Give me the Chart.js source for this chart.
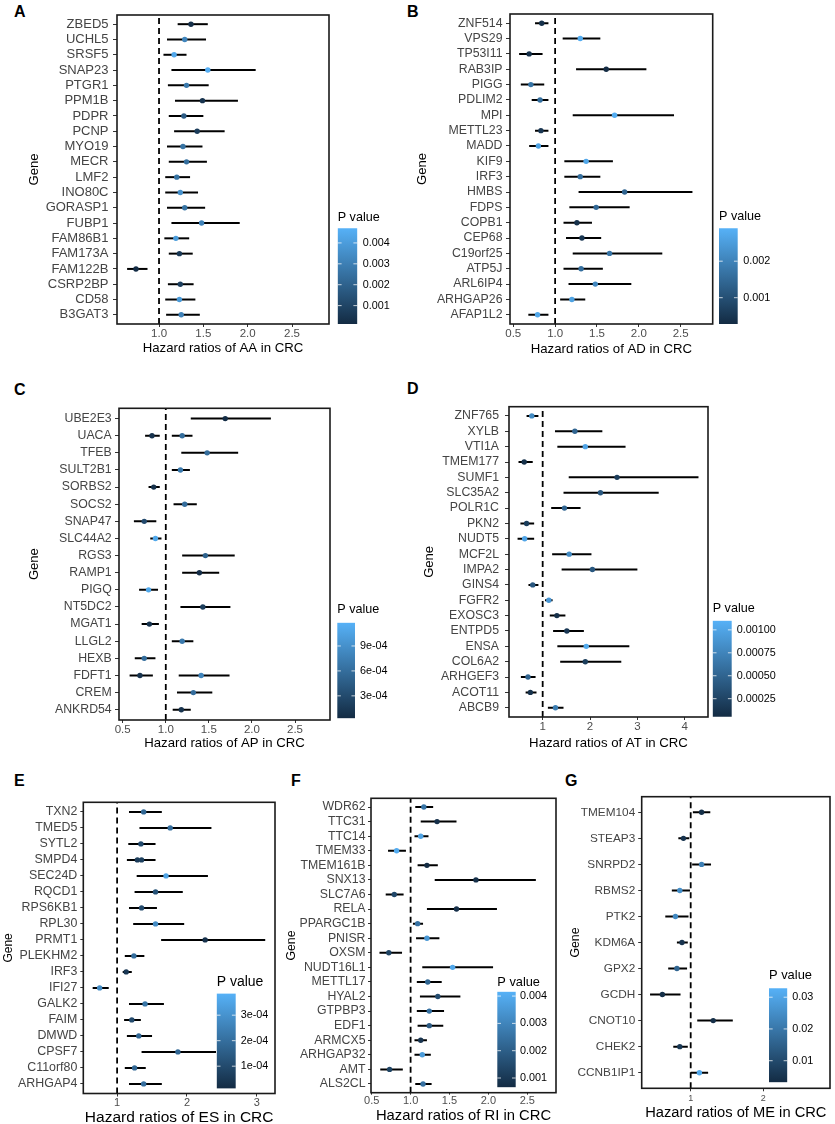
<!DOCTYPE html>
<html><head><meta charset="utf-8">
<script src="https://cdn.jsdelivr.net/npm/chart.js@4.4.0/dist/chart.umd.min.js"></script>
<style>
html,body{margin:0;padding:0;background:#fff;overflow:hidden;width:835px;height:1124px;}
.lbl{position:absolute;font:bold 16px "Liberation Sans",Arial,sans-serif;line-height:16px;color:#000;}
.pan{position:absolute;}
</style></head><body>
<div class="lbl" style="left:14px;top:4px">A</div>
<div class="lbl" style="left:407px;top:4px">B</div>
<div class="lbl" style="left:14px;top:382px">C</div>
<div class="lbl" style="left:407px;top:381px">D</div>
<div class="lbl" style="left:14px;top:773px">E</div>
<div class="lbl" style="left:291px;top:773px">F</div>
<div class="lbl" style="left:565px;top:773px">G</div>
<script>
// ---------- DATA ----------
const genesA = ['ZBED5','UCHL5','SRSF5','SNAP23','PTGR1','PPM1B','PDPR','PCNP','MYO19','MECR','LMF2','INO80C','GORASP1','FUBP1','FAM86B1','FAM173A','FAM122B','CSRP2BP','CD58','B3GAT3'];
const hrA   = [1.36,1.29,1.17,1.55,1.31,1.49,1.28,1.43,1.27,1.31,1.20,1.24,1.29,1.48,1.19,1.23,0.74,1.24,1.23,1.25];
const lowA  = [1.21,1.09,1.05,1.14,1.10,1.18,1.11,1.17,1.09,1.11,1.07,1.07,1.09,1.14,1.06,1.11,0.64,1.10,1.07,1.08];
const highA = [1.55,1.53,1.31,2.09,1.56,1.89,1.50,1.74,1.49,1.54,1.35,1.44,1.52,1.91,1.34,1.38,0.87,1.39,1.41,1.46];
const pA    = [0.0003,0.0032,0.0044,0.0046,0.0028,0.0004,0.0018,0.0007,0.0026,0.0024,0.0026,0.0036,0.0026,0.0031,0.0040,0.0006,0.0002,0.0008,0.0039,0.0031];

const genesB = ['ZNF514','VPS29','TP53I11','RAB3IP','PIGG','PDLIM2','MPI','METTL23','MADD','KIF9','IRF3','HMBS','FDPS','COPB1','CEP68','C19orf25','ATP5J','ARL6IP4','ARHGAP26','AFAP1L2'];
const hrB   = [0.84,1.30,0.69,1.61,0.71,0.82,1.71,0.83,0.80,1.37,1.30,1.83,1.49,1.26,1.32,1.65,1.31,1.48,1.20,0.79];
const lowB  = [0.76,1.09,0.57,1.25,0.59,0.72,1.21,0.76,0.69,1.11,1.11,1.28,1.17,1.10,1.13,1.21,1.10,1.16,1.06,0.68];
const highB = [0.92,1.54,0.85,2.09,0.87,0.92,2.42,0.92,0.92,1.69,1.54,2.64,1.89,1.44,1.55,2.28,1.57,1.91,1.36,0.92];
const pB    = [0.0004,0.0028,0.0004,0.0003,0.0017,0.0016,0.0028,0.0005,0.0026,0.0027,0.0016,0.0014,0.0015,0.0004,0.0005,0.0017,0.0016,0.0021,0.0026,0.0027];

const genesC = ['UBE2E3','UACA','UACA','TFEB','SULT2B1','SORBS2','SOCS2','SNAP47','SLC44A2','RGS3','RAMP1','PIGQ','NT5DC2','MGAT1','LLGL2','HEXB','FDFT1','FDFT1','CREM','ANKRD54'];
const hrC   = [1.69,0.84,1.19,1.48,1.17,0.86,1.22,0.75,0.88,1.46,1.39,0.80,1.43,0.81,1.19,0.75,0.70,1.41,1.32,1.18];
const lowC  = [1.29,0.76,1.07,1.18,1.07,0.80,1.09,0.63,0.82,1.19,1.19,0.69,1.17,0.72,1.07,0.64,0.58,1.15,1.13,1.08];
const highC = [2.22,0.93,1.31,1.84,1.28,0.93,1.36,0.89,0.95,1.80,1.62,0.91,1.75,0.92,1.32,0.88,0.85,1.74,1.54,1.29];
const pC    = [0.00005,0.0001,0.0006,0.0006,0.0007,0.00008,0.0006,0.0003,0.0011,0.0005,0.00006,0.0011,0.0002,0.0001,0.0007,0.0006,0.0001,0.0008,0.0006,0.0001];

const genesD = ['ZNF765','XYLB','VTI1A','TMEM177','SUMF1','SLC35A2','POLR1C','PKN2','NUDT5','MCF2L','IMPA2','GINS4','FGFR2','EXOSC3','ENTPD5','ENSA','COL6A2','ARHGEF3','ACOT11','ABCB9'];
const hrD   = [0.77,1.68,1.90,0.61,2.57,2.22,1.46,0.66,0.62,1.56,2.05,0.79,1.13,1.30,1.51,1.92,1.90,0.69,0.74,1.27];
const lowD  = [0.66,1.26,1.31,0.49,1.55,1.44,1.18,0.53,0.47,1.20,1.40,0.70,1.05,1.15,1.22,1.31,1.37,0.54,0.64,1.11];
const highD = [0.91,2.26,2.75,0.79,4.29,3.45,1.80,0.82,0.82,2.03,3.00,0.91,1.21,1.48,1.87,2.83,2.66,0.85,0.87,1.44];
const pD    = [0.0008,0.0005,0.0010,0.0001,0.0002,0.0004,0.0005,0.0002,0.0010,0.0008,0.0004,0.0004,0.0009,0.0001,0.00015,0.00105,0.0002,0.0005,0.0001,0.0007];

const genesE = ['TXN2','TMED5','SYTL2','SMPD4','SMPD4','SEC24D','RQCD1','RPS6KB1','RPL30','PRMT1','PLEKHM2','IRF3','IFI27','GALK2','FAIM','DMWD','CPSF7','C11orf80','ARHGAP4'];
const hrE   = [1.38,1.76,1.34,1.29,1.35,1.70,1.55,1.35,1.55,2.26,1.24,1.13,0.75,1.40,1.21,1.31,1.87,1.25,1.38];
const lowE  = [1.17,1.32,1.16,1.14,1.15,1.28,1.25,1.17,1.23,1.63,1.11,1.08,0.65,1.17,1.10,1.14,1.35,1.11,1.17];
const highE = [1.64,2.35,1.55,1.52,1.55,2.30,1.94,1.57,1.96,3.12,1.39,1.21,0.88,1.67,1.34,1.50,3.15,1.41,1.64];
const pE    = [0.00018,0.0002,0.0001,0.00006,0.00007,0.00035,0.00012,0.0001,0.00028,0.00003,0.0002,0.00005,0.00028,0.00022,0.0001,0.00018,0.00018,0.00018,0.0002];

const genesF = ['WDR62','TTC31','TTC14','TMEM33','TMEM161B','SNX13','SLC7A6','RELA','PPARGC1B','PNISR','OXSM','NUDT16L1','METTL17','HYAL2','GTPBP3','EDF1','ARMCX5','ARHGAP32','AMT','ALS2CL'];
const hrF   = [1.17,1.34,1.13,0.82,1.21,1.84,0.79,1.59,1.09,1.21,0.72,1.54,1.22,1.35,1.24,1.24,1.13,1.15,0.73,1.16];
const lowF  = [1.06,1.13,1.05,0.71,1.09,1.31,0.68,1.21,1.03,1.07,0.60,1.15,1.08,1.12,1.08,1.09,1.05,1.05,0.61,1.06];
const highF = [1.29,1.59,1.23,0.94,1.35,2.61,0.91,2.11,1.16,1.37,0.89,2.06,1.40,1.64,1.43,1.42,1.21,1.26,0.90,1.27];
const pF    = [0.0026,0.0008,0.0038,0.0040,0.0007,0.0008,0.0014,0.0008,0.0025,0.0035,0.0013,0.0039,0.0022,0.0015,0.0025,0.0019,0.0009,0.0036,0.0013,0.0025];

const genesG = ['TMEM104','STEAP3','SNRPD2','RBMS2','PTK2','KDM6A','GPX2','GCDH','CNOT10','CHEK2','CCNB1IP1'];
const hrG   = [1.15,0.90,1.15,0.85,0.79,0.88,0.81,0.61,1.31,0.85,1.12];
const lowG  = [1.03,0.83,1.02,0.74,0.65,0.81,0.69,0.44,1.09,0.76,1.00];
const highG = [1.27,0.98,1.28,0.99,0.97,0.96,0.95,0.86,1.58,0.96,1.24];
const pG    = [0.004,0.005,0.022,0.025,0.024,0.005,0.016,0.004,0.004,0.006,0.031];

// x-axis tick values and legend ticks/labels
const xTicksAB = [0.5,1.0,1.5,2.0,2.5];
const xTicksA = [1.0,1.5,2.0,2.5];
const xTicksD = [1,2,3,4];
const xTicksE = [1,2,3];
const xTicksG = [1,2];
const legTicksA = [0.001,0.002,0.003,0.004], legLabelsA = ['0.001','0.002','0.003','0.004'];
const legTicksB = [0.001,0.002], legLabelsB = ['0.001','0.002'];
const legTicksC = [0.0003,0.0006,0.0009], legLabelsC = ['3e-04','6e-04','9e-04'];
const legTicksD = [0.00025,0.0005,0.00075,0.001], legLabelsD = ['0.00025','0.00050','0.00075','0.00100'];
const legTicksE = [0.0001,0.0002,0.0003], legLabelsE = ['1e-04','2e-04','3e-04'];
const legTicksF = [0.001,0.002,0.003,0.004], legLabelsF = ['0.001','0.002','0.003','0.004'];
const legTicksG = [0.01,0.02,0.03], legLabelsG = ['0.01','0.02','0.03'];
const pRangeA=[0.00012,0.0047], pRangeB=[0.00028,0.0029], pRangeC=[0.00003,0.00118], pRangeD=[0.0000535,0.0011],
      pRangeE=[0.0000125,0.000385], pRangeF=[0.00066,0.00416], pRangeG=[0.0032,0.0328];

// ---------- RENDER ----------
Chart.defaults.font.family = '"Liberation Sans", Arial, Helvetica, sans-serif';
Chart.defaults.animation = false;
const LOW='#132B43', HIGH='#56B1F7';
function hex2rgb(h){return [1,3,5].map(i=>parseInt(h.substr(i,2),16));}
function pcol(p,r){let t=(p-r[0])/(r[1]-r[0]);t=Math.max(0,Math.min(1,t));const a=hex2rgb(LOW),b=hex2rgb(HIGH);return 'rgb('+a.map((v,i)=>Math.round(v+(b[i]-v)*t)).join(',')+')';}

const boxPlugin={id:'box',afterDraw(chart){const a=chart.chartArea,ctx=chart.ctx;ctx.save();ctx.strokeStyle='#1a1a1a';ctx.lineWidth=1.6;ctx.strokeRect(a.left,a.top,a.right-a.left,a.bottom-a.top);ctx.restore();}};

function mkDiv(l,t,w,h){const d=document.createElement('div');d.className='pan';d.style.left=l+'px';d.style.top=t+'px';d.style.width=w+'px';d.style.height=h+'px';const c=document.createElement('canvas');d.appendChild(c);document.body.appendChild(d);return c;}

function panel(c){
  const cv=mkDiv(c.cl,c.ct,c.cw,c.ch);
  const rows=[...new Set(c.genes)], n=rows.length;
  const yOf=g=>n-1-rows.indexOf(g);
  const yW=c.L-c.cl, xH=c.ct+c.ch-c.B;
  const ds=[];
  ds.push({data:c.genes.map((g,i)=>({x:c.hr[i],y:yOf(g)})),pointRadius:2.7,pointBackgroundColor:c.p.map(p=>pcol(p,c.pr)),pointBorderWidth:0,showLine:false});
  c.genes.forEach((g,i)=>ds.push({data:[{x:c.low[i],y:yOf(g)},{x:c.high[i],y:yOf(g)}],showLine:true,borderColor:'#000',borderWidth:2,pointRadius:0,pointHitRadius:0}));
  ds.push({data:[{x:1,y:-0.6},{x:1,y:n-0.4}],showLine:true,borderColor:'#000',borderWidth:1.8,borderDash:[6,4],pointRadius:0,pointHitRadius:0});
  new Chart(cv,{type:'scatter',data:{datasets:ds},plugins:[boxPlugin],options:{
    responsive:true,maintainAspectRatio:false,events:[],
    layout:{padding:{left:0,top:c.T-c.ct,right:c.cl+c.cw-c.R,bottom:0}},
    plugins:{legend:{display:false},tooltip:{enabled:false},title:{display:false}},
    scales:{
      x:{type:'linear',bounds:'data',min:c.xmin,max:c.xmax,
        afterBuildTicks:s=>{s.ticks=c.xticks.map(v=>({value:v}));},
        afterFit:s=>{s.height=xH;},
        ticks:{callback:v=>Number(v).toFixed(c.dec),color:'#4D4D4D',font:{size:c.xtf},padding:c.xpad,autoSkip:false,maxRotation:0},
        grid:{drawOnChartArea:false,drawTicks:true,tickLength:c.xtl,color:'#333'},
        border:{display:false},
        title:{display:true,text:c.xtitle,color:'#000',font:{size:c.xtsz},padding:{top:0,bottom:c.xtpadB}}},
      y:{type:'linear',bounds:'data',min:-0.6,max:n-0.4,
        afterBuildTicks:s=>{s.ticks=rows.map((_,i)=>({value:i}));},
        afterFit:s=>{s.width=yW;},
        ticks:{callback:v=>rows[n-1-v],color:'#444',font:{size:c.ytf},padding:c.ypad,autoSkip:false},
        grid:{drawOnChartArea:false,drawTicks:true,tickLength:c.ytl,color:'#333'},
        border:{display:false},
        title:{display:true,text:'Gene',color:'#000',font:{size:c.gsz},padding:{top:c.gpad,bottom:0}}}
    }}});
}

function colorbar(c){
  const lh=c.tf*1.2;
  const ct=Math.floor(c.tcy-lh/2-1), cl=Math.floor(c.L), cb=Math.ceil(c.B+14);
  const cv=mkDiv(cl,ct,c.right-cl,cb-ct);
  const plugs=[{id:'cbt',afterDatasetsDraw(chart){const a=chart.chartArea,ys=chart.scales.y,ctx=chart.ctx;const w=(a.right-a.left)/5;ctx.save();ctx.strokeStyle='rgba(255,255,255,0.75)';ctx.lineWidth=1;ys.ticks.forEach(t=>{const y=ys.getPixelForValue(t.value);ctx.beginPath();ctx.moveTo(a.left,y);ctx.lineTo(a.left+w,y);ctx.moveTo(a.right-w,y);ctx.lineTo(a.right,y);ctx.stroke();});ctx.restore();}}];
  if(c.bg) plugs.push({id:'bg',beforeDraw(chart){const a=chart.chartArea,ctx=chart.ctx;ctx.save();ctx.fillStyle='#fff';ctx.fillRect(0,0,chart.width,a.bottom+2);ctx.restore();}});
  new Chart(cv,{type:'bar',data:{labels:[''],datasets:[{data:[[c.pr[0],c.pr[1]]],barPercentage:1,categoryPercentage:1,borderWidth:0,
      backgroundColor:(ctx)=>{const a=ctx.chart.chartArea;if(!a)return '#336A98';const g=ctx.chart.ctx.createLinearGradient(0,a.bottom,0,a.top);g.addColorStop(0,LOW);g.addColorStop(1,HIGH);return g;}}]},
    plugins:plugs,
    options:{responsive:true,maintainAspectRatio:false,events:[],
      layout:{padding:{left:c.L-cl,top:0,right:0,bottom:cb-c.B}},
      plugins:{legend:{display:false},tooltip:{enabled:false},
        title:{display:true,text:'P value',align:'start',color:'#000',font:{size:c.tf,weight:'normal'},padding:{top:c.tcy-lh/2-ct,bottom:c.T-(c.tcy+lh/2)}}},
      scales:{x:{display:false},
        y:{position:'right',bounds:'data',min:c.pr[0],max:c.pr[1],
          afterBuildTicks:s=>{s.ticks=c.ticks.map(v=>({value:v}));},
          afterFit:s=>{s.width=c.right-c.R;},
          ticks:{callback:(v,i)=>c.labels[i],color:'#000',font:{size:c.lf},padding:c.lx-c.R,autoSkip:false},
          grid:{display:false,drawTicks:false},border:{display:false}}}}});
}

// panels
panel({genes:genesA,hr:hrA,low:lowA,high:highA,p:pA,pr:pRangeA,L:117,R:329,T:15,B:324,cl:23,ct:1,cw:310,ch:359,
  xmin:0.526,xmax:2.917,xticks:xTicksA,dec:1,xtf:11.5,xtl:3,xpad:0,xtitle:'Hazard ratios of AA in CRC',xtsz:13.2,xtpadB:4,
  ytf:13,ytl:4,ypad:4.5,gsz:13,gpad:4});
panel({genes:genesB,hr:hrB,low:lowB,high:highB,p:pB,pr:pRangeB,L:510,R:712.7,T:14,B:324,cl:411,ct:0,cw:306,ch:361,
  xmin:0.461,xmax:2.882,xticks:xTicksAB,dec:1,xtf:11.5,xtl:3,xpad:0,xtitle:'Hazard ratios of AD in CRC',xtsz:13.2,xtpadB:4,
  ytf:12.3,ytl:4,ypad:3.5,gsz:13,gpad:4});
panel({genes:genesC,hr:hrC,low:lowC,high:highC,p:pC,pr:pRangeC,L:119,R:330,T:408.3,B:720,cl:23,ct:394,cw:311,ch:361,
  xmin:0.457,xmax:2.906,xticks:xTicksAB,dec:1,xtf:11.5,xtl:3,xpad:0,xtitle:'Hazard ratios of AP in CRC',xtsz:13.2,xtpadB:4,
  ytf:12.3,ytl:4,ypad:3.3,gsz:13,gpad:4});
panel({genes:genesD,hr:hrD,low:lowD,high:highD,p:pD,pr:pRangeD,L:509,R:708.3,T:406.7,B:717,cl:418,ct:392,cw:294,ch:363,
  xmin:0.289,xmax:4.491,xticks:xTicksD,dec:0,xtf:11.5,xtl:3,xpad:0,xtitle:'Hazard ratios of AT in CRC',xtsz:13.2,xtpadB:4,
  ytf:12.3,ytl:4,ypad:6,gsz:13,gpad:4});
panel({genes:genesE,hr:hrE,low:lowE,high:highE,p:pE,pr:pRangeE,L:83.3,R:275,T:802.3,B:1093.5,cl:1,ct:788,cw:278,ch:339,
  xmin:0.516,xmax:3.26,xticks:xTicksE,dec:0,xtf:11,xtl:3,xpad:0,xtitle:'Hazard ratios of ES in CRC',xtsz:15.5,xtpadB:0,
  ytf:12.4,ytl:3,ypad:3,gsz:12,gpad:0});
panel({genes:genesF,hr:hrF,low:lowF,high:highF,p:pF,pr:pRangeF,L:371,R:556,T:798.3,B:1092.7,cl:280,ct:784,cw:280,ch:341,
  xmin:0.491,xmax:2.869,xticks:xTicksAB,dec:1,xtf:11,xtl:2,xpad:0,xtitle:'Hazard ratios of RI in CRC',xtsz:14.8,xtpadB:0,
  ytf:12.3,ytl:3,ypad:2.5,gsz:12.3,gpad:4});
panel({genes:genesG,hr:hrG,low:lowG,high:highG,p:pG,pr:pRangeG,L:641.7,R:830,T:796.7,B:1088.3,cl:564,ct:782,cw:270,ch:340,
  xmin:0.325,xmax:2.919,xticks:xTicksG,dec:0,xtf:9,xtl:3,xpad:2,xtitle:'Hazard ratios of ME in CRC',xtsz:14.7,xtpadB:0,
  ytf:11.8,ytl:3.5,ypad:3,gsz:12.3,gpad:4});

// legends
colorbar({L:337.7,R:357.3,T:228.3,B:324,tcy:218,tf:12.6,lf:10.8,lx:362.7,right:400,pr:pRangeA,ticks:legTicksA,labels:legLabelsA});
colorbar({L:719,R:737.7,T:228.3,B:324,tcy:216.7,tf:12.6,lf:10.8,lx:743.3,right:795,pr:pRangeB,ticks:legTicksB,labels:legLabelsB});
colorbar({L:337.3,R:355,T:622.7,B:718.3,tcy:609.3,tf:12.6,lf:10.8,lx:360,right:405,pr:pRangeC,ticks:legTicksC,labels:legLabelsC});
colorbar({L:712.7,R:731.7,T:620.7,B:716.7,tcy:609,tf:12.6,lf:10.8,lx:736.7,right:800,pr:pRangeD,ticks:legTicksD,labels:legLabelsD});
colorbar({L:216.7,R:235.7,T:993.5,B:1088.5,tcy:981.7,tf:14,lf:10.8,lx:240.7,right:272,pr:pRangeE,ticks:legTicksE,labels:legLabelsE,bg:true});
colorbar({L:497.3,R:515.7,T:991.7,B:1087.3,tcy:982.3,tf:12.8,lf:10.8,lx:520,right:553,pr:pRangeF,ticks:legTicksF,labels:legLabelsF,bg:true});
colorbar({L:769,R:787.3,T:988.3,B:1082.3,tcy:975,tf:12.9,lf:10.8,lx:792.3,right:828,pr:pRangeG,ticks:legTicksG,labels:legLabelsG,bg:true});
</script>
</body></html>
